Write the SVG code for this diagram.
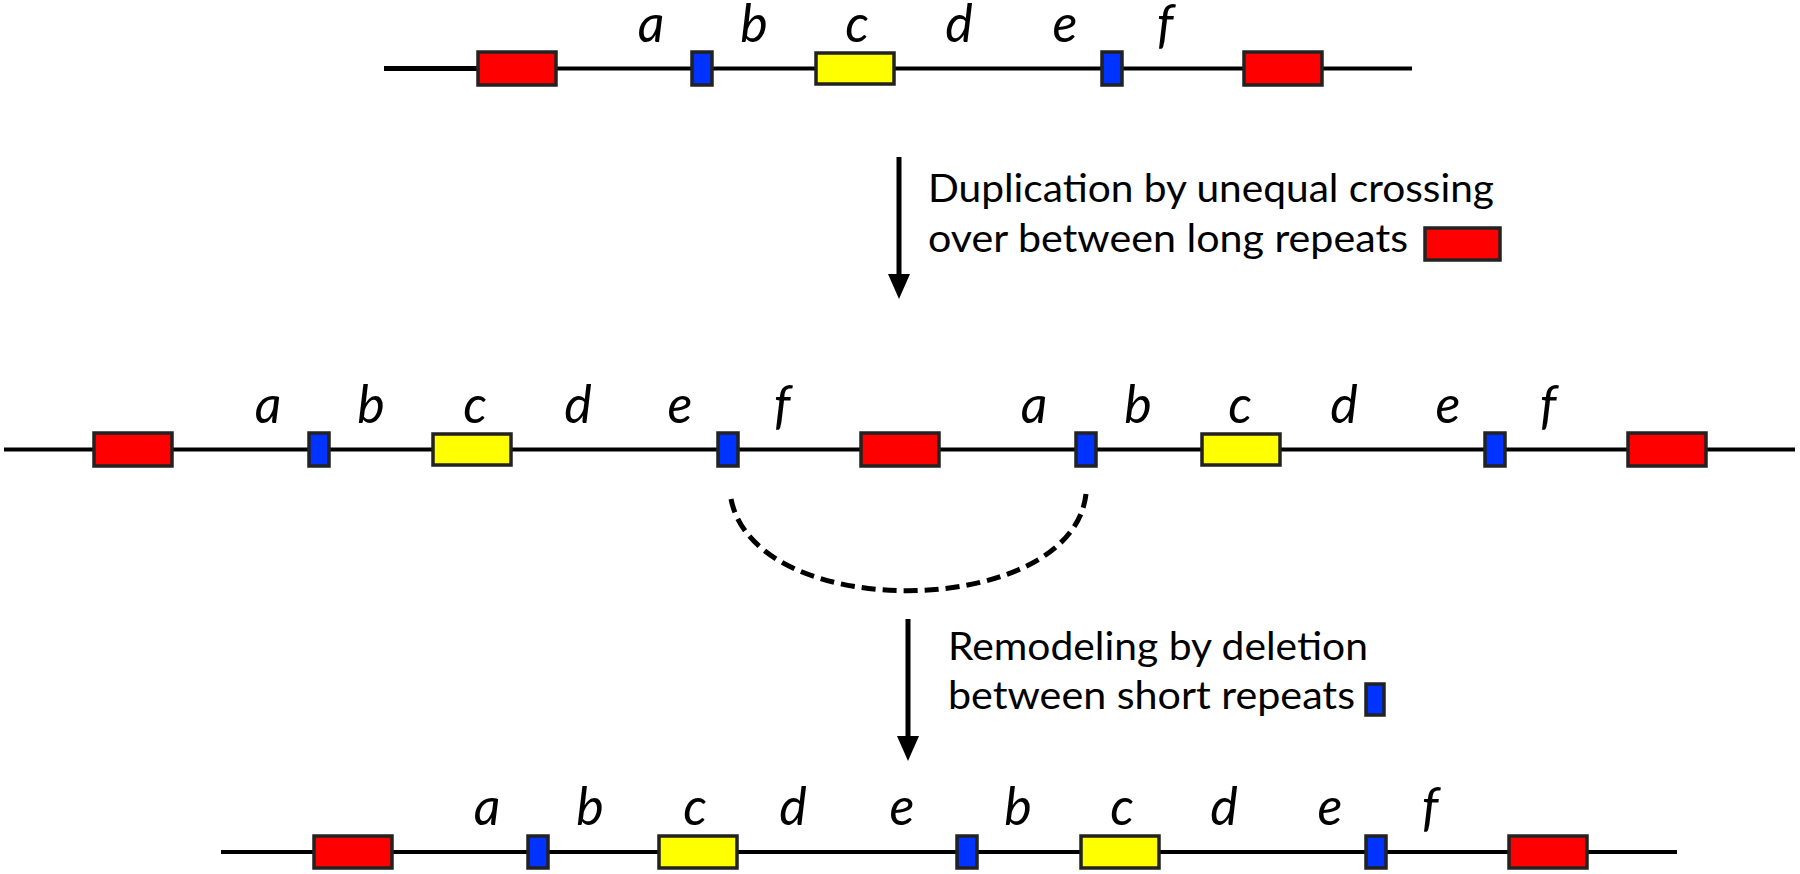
<svg xmlns="http://www.w3.org/2000/svg" width="1800" height="874" viewBox="0 0 1800 874">
  <style>
    .bb { stroke: #000; stroke-width: 4; fill: none; }
    .red { fill: #FF0000; stroke: #222; stroke-width: 3.5; }
    .blue { fill: #0033FF; stroke: #222; stroke-width: 3.5; }
    .yel { fill: #FFFF00; stroke: #222; stroke-width: 3.5; }
    .lbl { font-family: Lato, "Open Sans", sans-serif; font-style: italic; font-size: 52px; fill: #000; text-anchor: middle; }
    .desc { font-family: Lato, "Open Sans", sans-serif; font-size: 39px; fill: #000; }
    .shaft { stroke: #000; stroke-width: 5; fill: none; }
    .arc { stroke: #000; stroke-width: 5; fill: none; stroke-dasharray: 14 7; }
  </style>

  <!-- Row 1: original chromosome -->
  <g id="row1">
    <line class="bb" x1="384" y1="68.5" x2="1412" y2="68.5"/>
    <line x1="384" y1="68.5" x2="478" y2="68.5" stroke="#000" stroke-width="5"/>
    <g id="r1-red1"><rect class="red" x="478" y="52" width="78" height="33"/></g>
    <g id="r1-blue1"><rect class="blue" x="692" y="52" width="20" height="33"/></g>
    <g id="r1-yel1"><rect class="yel" x="816" y="53" width="78" height="31"/></g>
    <g id="r1-blue2"><rect class="blue" x="1102" y="52" width="20" height="33"/></g>
    <g id="r1-red2"><rect class="red" x="1244" y="52" width="78" height="33"/></g>
    <g id="r1-labels">
      <text class="lbl" x="651" y="42">a</text>
      <text class="lbl" x="754" y="42">b</text>
      <text class="lbl" x="857" y="42">c</text>
      <text class="lbl" x="959" y="42">d</text>
      <text class="lbl" x="1065" y="42">e</text>
      <text class="lbl" x="1165" y="42">f</text>
    </g>
  </g>

  <!-- Row 2: duplicated chromosome -->
  <g id="row2">
    <line class="bb" x1="4" y1="449.5" x2="1795" y2="449.5"/>
    <g id="r2-red1"><rect class="red" x="94" y="433" width="78" height="33"/></g>
    <g id="r2-blue1"><rect class="blue" x="309" y="433" width="20" height="33"/></g>
    <g id="r2-yel1"><rect class="yel" x="433" y="434" width="78" height="31"/></g>
    <g id="r2-blue2"><rect class="blue" x="718" y="433" width="20" height="33"/></g>
    <g id="r2-red2"><rect class="red" x="861" y="433" width="78" height="33"/></g>
    <g id="r2-blue3"><rect class="blue" x="1076" y="433" width="20" height="33"/></g>
    <g id="r2-yel2"><rect class="yel" x="1202" y="434" width="78" height="31"/></g>
    <g id="r2-blue4"><rect class="blue" x="1485" y="433" width="20" height="33"/></g>
    <g id="r2-red3"><rect class="red" x="1628" y="433" width="78" height="33"/></g>
    <g id="r2-labels">
      <text class="lbl" x="268" y="423">a</text>
      <text class="lbl" x="371" y="423">b</text>
      <text class="lbl" x="475" y="423">c</text>
      <text class="lbl" x="578" y="423">d</text>
      <text class="lbl" x="680" y="423">e</text>
      <text class="lbl" x="782" y="423">f</text>
      <text class="lbl" x="1034" y="423">a</text>
      <text class="lbl" x="1138" y="423">b</text>
      <text class="lbl" x="1240" y="423">c</text>
      <text class="lbl" x="1344" y="423">d</text>
      <text class="lbl" x="1448" y="423">e</text>
      <text class="lbl" x="1548" y="423">f</text>
    </g>
  </g>

  <!-- Row 3: remodeled chromosome -->
  <g id="row3">
    <line class="bb" x1="221" y1="852" x2="1677" y2="852"/>
    <g id="r3-red1"><rect class="red" x="314" y="836" width="78" height="32"/></g>
    <g id="r3-blue1"><rect class="blue" x="528" y="836" width="20" height="32"/></g>
    <g id="r3-yel1"><rect class="yel" x="659" y="836" width="78" height="32"/></g>
    <g id="r3-blue2"><rect class="blue" x="957" y="836" width="20" height="32"/></g>
    <g id="r3-yel2"><rect class="yel" x="1081" y="836" width="78" height="32"/></g>
    <g id="r3-blue3"><rect class="blue" x="1366" y="836" width="20" height="32"/></g>
    <g id="r3-red2"><rect class="red" x="1509" y="836" width="78" height="32"/></g>
    <g id="r3-labels">
      <text class="lbl" x="487" y="825">a</text>
      <text class="lbl" x="590" y="825">b</text>
      <text class="lbl" x="695" y="825">c</text>
      <text class="lbl" x="793" y="825">d</text>
      <text class="lbl" x="902" y="825">e</text>
      <text class="lbl" x="1018" y="825">b</text>
      <text class="lbl" x="1122" y="825">c</text>
      <text class="lbl" x="1224" y="825">d</text>
      <text class="lbl" x="1330" y="825">e</text>
      <text class="lbl" x="1430" y="825">f</text>
    </g>
  </g>

  <!-- Step descriptions -->
  <g id="step1-text">
    <text class="desc" x="928" y="202" textLength="566" lengthAdjust="spacingAndGlyphs">Duplication by unequal crossing</text>
    <text class="desc" x="928" y="252" textLength="480" lengthAdjust="spacingAndGlyphs">over between long repeats</text>
    <rect class="red" x="1425" y="228" width="75" height="32"/>
  </g>
  <g id="step2-text">
    <text class="desc" x="948" y="660" textLength="420" lengthAdjust="spacingAndGlyphs">Remodeling by deletion</text>
    <text class="desc" x="948" y="709" textLength="407" lengthAdjust="spacingAndGlyphs">between short repeats</text>
    <rect class="blue" x="1366" y="684" width="18" height="31"/>
  </g>

  <!-- Connectors -->
  <g id="connectors">
    <line class="shaft" x1="899" y1="157" x2="899" y2="276"/>
    <polygon points="888,274 910,274 899,299" fill="#000"/>
    <line class="shaft" x1="908" y1="619" x2="908" y2="738"/>
    <polygon points="897,736 919,736 908,761" fill="#000"/>
    <path class="arc" d="M731,499 C756,625 1072,619 1086,494"/>
  </g>
</svg>
